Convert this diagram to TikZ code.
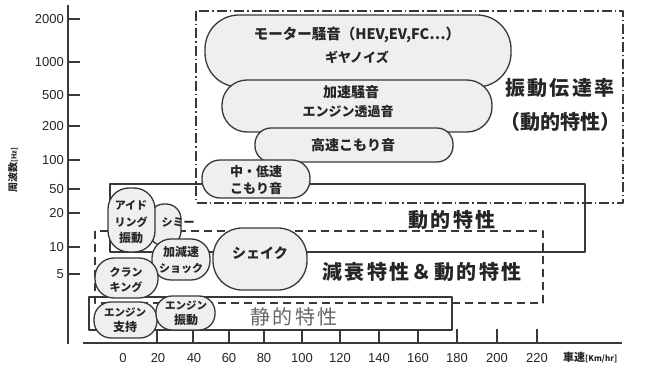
\documentclass[tikz,border=0pt]{standalone}
\usepackage{fontspec}
\setmainfont{Liberation Sans}
\newfontfamily\jp{Noto Sans CJK JP}
\newfontfamily\jpw[LetterSpace=12]{Noto Sans CJK JP}
\newcommand{\fsz}[1]{\fontsize{#1}{#1}\selectfont}
\definecolor{lc}{HTML}{383838}
\definecolor{bf}{HTML}{EFEFEF}
\definecolor{tc}{HTML}{262626}
\begin{document}
\begin{tikzpicture}[x=1pt,y=-1pt,line join=round,
  blob/.style={draw=lc,line width=1.3pt,fill=bf,inner sep=0pt},
  ddot/.style={draw=lc,line width=1.3pt,dash pattern=on 10pt off 3pt on 1.5pt off 3pt},
  dsh/.style={draw=lc,line width=1.3pt,dash pattern=on 8pt off 5pt},
  solidbox/.style={draw=lc,line width=1.3pt},
  txt/.style={inner sep=0pt,text=tc,font=\jp},
  biglab/.style={inner sep=0pt,text=tc,font=\jpw\bfseries\fsz{20}},
  ytl/.style={inner sep=0pt,anchor=east,text=tc,font=\fsz{13}},
  xtl/.style={inner sep=0pt,text=tc,font=\fsz{13}},
  axis/.style={draw=lc,line width=2.5pt},
  tickln/.style={draw=lc,line width=1.6pt}]
\useasboundingbox (0,0) rectangle (649,371);
\fill[white] (0,0) rectangle (649,371);

% region boxes
\draw[ddot] (196,11) rectangle (623,203);
\draw[solidbox] (110,184) rectangle (585,252);
\draw[dsh] (95,231) rectangle (543,303);
\draw[solidbox] (89,297) rectangle (452,330);

% axes
\coordinate (yt) at (68,5);
\coordinate (yb) at (68,344);
\coordinate (xl) at (83,343);
\coordinate (xr) at (622,343);
\draw[axis] (yt) -- (yb);
\draw[axis] (xl) -- (xr);

% y ticks
\foreach \v/\y in {2000/19,1000/62,500/95,200/126,100/160,50/189,20/213,10/247,5/274}{
  \draw[tickln] (68,\y) -- (80,\y);
  \node[ytl] at (64,\y) {\v};
}
% x ticks
\foreach \v/\x in {20/157,40/193,60/229,80/264,100/302,120/340,140/379,160/418,180/457,200/497,220/537}{
  \draw[tickln] (\x,329) -- (\x,343);
}
\foreach \v/\x in {0/123,20/158,40/194,60/229,80/264,100/302,120/340,140/379,160/418,180/457,200/497,220/537}{
  \node[xtl] at (\x,358) {\v};
}

% shapes (upper group)
\node[blob,minimum width=306pt,minimum height=72pt,rounded corners=34pt] (motor) at (358,51) {};
\node[blob,minimum width=270pt,minimum height=52pt,rounded corners=25pt] (accel) at (357,106) {};
\node[blob,minimum width=198pt,minimum height=34pt,rounded corners=16pt] (hisp) at (354,145) {};
\node[blob,minimum width=108pt,minimum height=38pt,rounded corners=18pt] (midlow) at (256,179) {};

\node[txt,font=\jp\bfseries\fsz{14.5}] (motorA) at (357,35) {モーター騒音（HEV,EV,FC…）};
\node[txt,font=\jp\bfseries\fsz{13}] (motorB) at (357,57) {ギヤノイズ};
\node[txt,font=\jp\bfseries\fsz{14}] (accelA) at (351,92) {加速騒音};
\node[txt,font=\jp\bfseries\fsz{13}] (accelB) at (348,112) {エンジン透過音};
\node[txt,font=\jp\bfseries\fsz{14}] (hispA) at (353,145) {高速こもり音};
\node[txt,font=\jp\bfseries\fsz{13}] (midA) at (256,172) {中・低速};
\node[txt,font=\jp\bfseries\fsz{13}] (midB) at (256,189) {こもり音};

% shapes (lower group)
\node[blob,minimum width=32pt,minimum height=42pt,rounded corners=15pt] (shimmy) at (165,225) {};
\node[txt,font=\jp\bfseries\fsz{11}] (shimmyT) at (178,222) {シミー};
\node[blob,minimum width=47pt,minimum height=64pt,rounded corners=21pt] (idle) at (131.5,220) {};
\node[blob,minimum width=58pt,minimum height=41pt,rounded corners=19pt] (kgs) at (181,259.5) {};
\node[blob,minimum width=94pt,minimum height=62pt,rounded corners=29pt] (shake) at (260,259) {};
\node[blob,minimum width=63pt,minimum height=40pt,rounded corners=19pt] (crank) at (126.5,278) {};
\node[blob,minimum width=63pt,minimum height=36pt,rounded corners=17pt] (esup) at (125.5,320) {};
\node[blob,minimum width=59pt,minimum height=34pt,rounded corners=16pt] (evib) at (185.5,313) {};

\node[txt,font=\jp\bfseries\fsz{11}] (idleA) at (131,205) {アイド};
\node[txt,font=\jp\bfseries\fsz{11}] (idleB) at (131,222) {リング};
\node[txt,font=\jp\bfseries\fsz{12}] (idleC) at (131,238) {振動};
\node[txt,font=\jp\bfseries\fsz{12}] (kgsA) at (181,252) {加減速};
\node[txt,font=\jp\bfseries\fsz{11}] (kgsB) at (181,268) {ショック};
\node[txt,font=\jp\bfseries\fsz{14}] (shakeA) at (260,253) {シェイク};
\node[txt,font=\jp\bfseries\fsz{11}] (crankA) at (126,272) {クラン};
\node[txt,font=\jp\bfseries\fsz{11}] (crankB) at (126,287) {キング};
\node[txt,font=\jp\bfseries\fsz{10.5}] (esupA) at (125,312) {エンジン};
\node[txt,font=\jp\bfseries\fsz{12}] (esupB) at (125,327) {支持};
\node[txt,font=\jp\bfseries\fsz{10.5}] (evibA) at (186,305) {エンジン};
\node[txt,font=\jp\bfseries\fsz{12}] (evibB) at (186,320) {振動};

% region labels
\node[biglab] (trA) at (560,88) {振動伝達率};
\node[biglab,font=\jp\bfseries\fsz{20}] (trB) at (560,122) {（動的特性）};
\node[biglab] (dyn) at (452,220) {動的特性};
\node[biglab] (damp) at (422,272) {減衰特性＆動的特性};
\node[biglab,font=\jpw\fsz{20},text=black!60] (stat) at (294,317) {静的特性};

% axis titles
\node[txt,rotate=90,font=\jp\bfseries\fsz{10}] (ylab) at (13,170) {周波数{\fsz{7}[Hz]}};
\node[txt,anchor=west,font=\jp\bfseries\fsz{11}] (xlab) at (563,358) {車速{\fsz{8}[Km/hr]}};
\end{tikzpicture}
\end{document}
